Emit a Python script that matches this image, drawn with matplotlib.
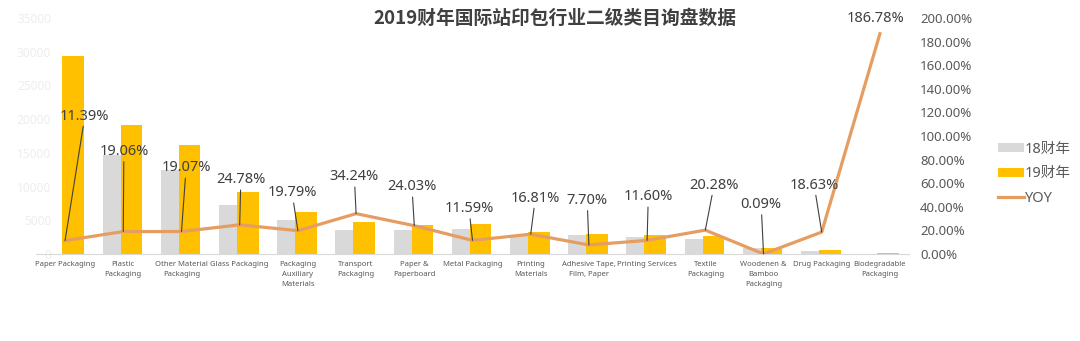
import numpy as np
import matplotlib
matplotlib.use("Agg")
import matplotlib.pyplot as plt

plt.rcParams['font.family'] = ['Noto Sans', 'Noto Sans CJK SC', 'DejaVu Sans']

categories = [
    "Paper Packaging", "Plastic\nPackaging", "Other Material\nPackaging", "Glass Packaging",
    "Packaging\nAuxiliary\nMaterials", "Transport\nPackaging", "Paper &\nPaperboard",
    "Metal Packaging", "Printing\nMaterials", "Adhesive Tape,\nFilm, Paper",
    "Printing Services", "Textile\nPackaging", "Woodenen &\nBamboo\nPackaging",
    "Drug Packaging", "Biodegradable\nPackaging",
]
fy18 = [0, 14700, 12500, 7300, 5100, 3550, 3500, 3750, 2700, 2800, 2550, 2250, 880, 480, 50]
fy19 = [29400, 19100, 16150, 9200, 6200, 4750, 4300, 4450, 3200, 3000, 2850, 2700, 880, 570, 150]
yoy = [11.39, 19.06, 19.07, 24.78, 19.79, 34.24, 24.03, 11.59, 16.81, 7.70, 11.60, 20.28, 0.09, 18.63, 186.78]
# label text positions (category index, % on right axis)
label_pos = [(0.34, 117), (1.01, 87), (2.08, 73), (3.02, 63), (3.90, 52), (4.97, 65.5),
             (5.96, 57), (6.94, 38.5), (8.08, 47.5), (8.97, 45.5), (10.02, 48.5),
             (11.15, 58.5), (11.96, 42), (12.87, 58.5), (13.93, 199.5)]

GRAY = "#D9D9D9"
YELLOW = "#FFC000"
LINE = "#E69D62"

fig = plt.figure(figsize=(10.8, 3.41), dpi=100)
ax = fig.add_axes([0.0333, 0.255, 0.8084, 0.692])
x = np.arange(len(categories))
w = 0.37
b18 = ax.bar(x - 0.17, fy18, w, color=GRAY, zorder=2, label="18财年")
b19 = ax.bar(x + 0.14, fy19, w, color=YELLOW, zorder=3, label="19财年")
ax.set_xlim(-0.5, len(categories) - 0.5)
ax.set_ylim(0, 35000)
ax.set_yticks(range(0, 35001, 5000))
ax.tick_params(axis='y', length=0, labelsize=8.5, labelcolor="#EDEDED", pad=-11)
ax.set_xticks(x)
ax.set_xticklabels(categories, fontsize=5.5, color="#595959", linespacing=1.6, va='top')
ax.tick_params(axis='x', length=0, pad=5)
for s in ["top", "right", "left"]:
    ax.spines[s].set_visible(False)
ax.spines["bottom"].set_color("#D9D9D9")

ax2 = ax.twinx()
ax2.set_ylim(0, 200)
ax2.set_yticks(range(0, 201, 20))
ax2.set_yticklabels([f"{v:.2f}%" for v in range(0, 201, 20)])
ax2.tick_params(axis='y', length=0, labelsize=9.5, labelcolor="#595959", pad=8)
for s in ["top", "right", "left", "bottom"]:
    ax2.spines[s].set_visible(False)
ln, = ax2.plot(x, yoy, color=LINE, lw=2.3, zorder=5, label="YOY")

for i, (v, (tx, ty)) in enumerate(zip(yoy, label_pos)):
    arrow = None if i == len(yoy) - 1 else dict(arrowstyle='-', color="#404040", lw=0.8,
                                                 shrinkA=0, shrinkB=0)
    ax2.annotate(f"{v:.2f}%", xy=(x[i], v), xytext=(tx, ty), ha='center', va='center',
                 fontsize=10.5, color="#404040", arrowprops=arrow, zorder=6,
                 annotation_clip=False)

fig.text(0.514, 0.947, "2019财年国际站印包行业二级类目询盘数据", ha='center', va='center',
         fontsize=13.5, fontweight='bold', color="#404040", family=['Noto Sans CJK SC'])

fig.legend(handles=[b18, b19, ln], loc='center left', bbox_to_anchor=(0.912, 0.49),
           frameon=False, fontsize=10.5, labelcolor="#595959", handlelength=1.8,
           handleheight=0.6, handletextpad=0.05, labelspacing=0.65)

fig.savefig("out.png", dpi=100)
